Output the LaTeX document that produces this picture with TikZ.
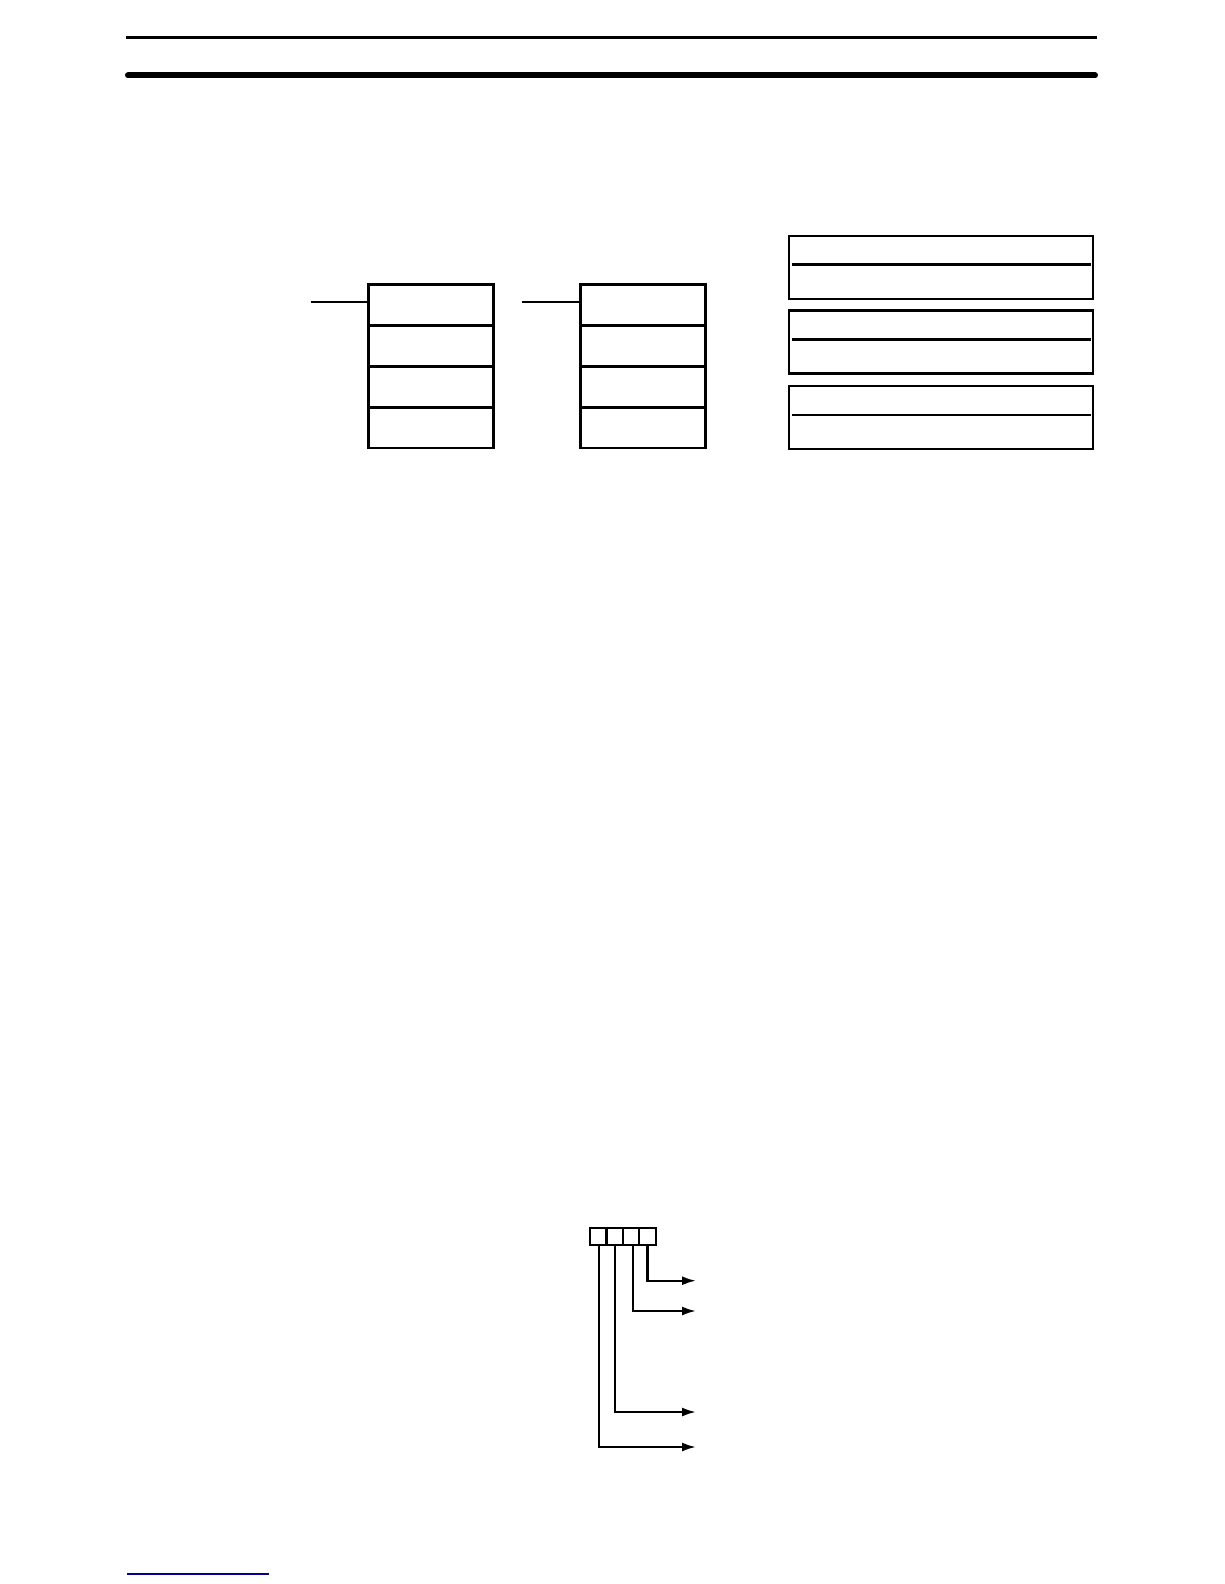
\documentclass[tikz,border=0pt]{standalone}
\usepackage{tikz}
\usetikzlibrary{arrows.meta, positioning}

\begin{document}
\begin{tikzpicture}[
        x=1pt, y=-1pt,
        % Style for the two word stacks
        word/.style={draw, rectangle, line width=2.6pt, minimum width=125pt, minimum height=40.9pt, inner sep=0pt, outer sep=0pt},
        % Style for the boxes on the right
        panel/.style={draw, rectangle, line width=2.6pt, minimum width=304pt, minimum height=63pt, inner sep=0pt},
        % Style for the digit cells at the bottom
        digit/.style={draw, rectangle, line width=2.2pt, minimum width=16.4pt, minimum height=17pt, inner sep=0pt, outer sep=0pt},
        lead/.style={line width=2.4pt},
        arrow/.style={-{Latex[length=14pt, width=9pt]}, line width=2.2pt},
        node distance=0pt
    ]
    \useasboundingbox (0,0) rectangle (1224,1584);

    % Header rules
    \coordinate (rule1w) at (126,37.7);
    \coordinate (rule1e) at (1097,37.7);
    \coordinate (rule2w) at (128,75.5);
    \coordinate (rule2e) at (1095,75.5);
    \draw[line width=2.4pt] (rule1w) -- (rule1e);
    \draw[line width=6pt, line cap=round] (rule2w) -- (rule2e);

    % First stack
    \node[word] at (431.2,305) (s1a) {};
    \node[word, below=of s1a] (s1b) {};
    \node[word, below=of s1b] (s1c) {};
    \node[word, below=of s1c] (s1d) {};

    % Second stack
    \node[word] at (643.2,305) (s2a) {};
    \node[word, below=of s2a] (s2b) {};
    \node[word, below=of s2b] (s2c) {};
    \node[word, below=of s2c] (s2d) {};

    % Inputs to the stacks
    \coordinate (in1) at (310.7,301.7);
    \coordinate (in2) at (522,301.7);
    \draw[lead] (in1) -- (in1 -| s1a.west);
    \draw[lead] (in2) -- (in2 -| s2a.west);

    % Boxes on the right
    \node[panel] at (940.8,267.3) (p1) {};
    \node[panel] at (940.8,342) (p2) {};
    \node[panel] at (940.8,417.3) (p3) {};
    \draw[lead] ([xshift=4pt,yshift=3pt]p1.west) -- ([xshift=-3pt,yshift=3pt]p1.east);
    \draw[lead] ([xshift=4pt,yshift=2.7pt]p2.west) -- ([xshift=-3pt,yshift=2.7pt]p2.east);
    \draw[lead] ([xshift=4pt,yshift=2.6pt]p3.west) -- ([xshift=-3pt,yshift=2.6pt]p3.east);

    % Digit cells
    \node[digit] at (598.2,1236.5) (d1) {};
    \node[digit, right=of d1] (d2) {};
    \node[digit, right=of d2] (d3) {};
    \node[digit, right=of d3] (d4) {};

    % Arrow ends
    \coordinate (o4) at (696,1280.7);
    \coordinate (o3) at (696,1311);
    \coordinate (o2) at (696,1412);
    \coordinate (o1) at (696,1447);

    % Drawing arrows from the digits
    \draw[arrow] (d4.south) |- (o4);
    \draw[arrow] ([xshift=2pt]d3.south) |- (o3);
    \draw[arrow] (d2.south) |- (o2);
    \draw[arrow] ([xshift=1pt]d1.south) |- (o1);

    % Footer link rule
    \coordinate (linkw) at (127,1574.3);
    \coordinate (linke) at (269,1574.3);
    \draw[line width=1.8pt, blue!60!black] (linkw) -- (linke);
\end{tikzpicture}
\end{document}
